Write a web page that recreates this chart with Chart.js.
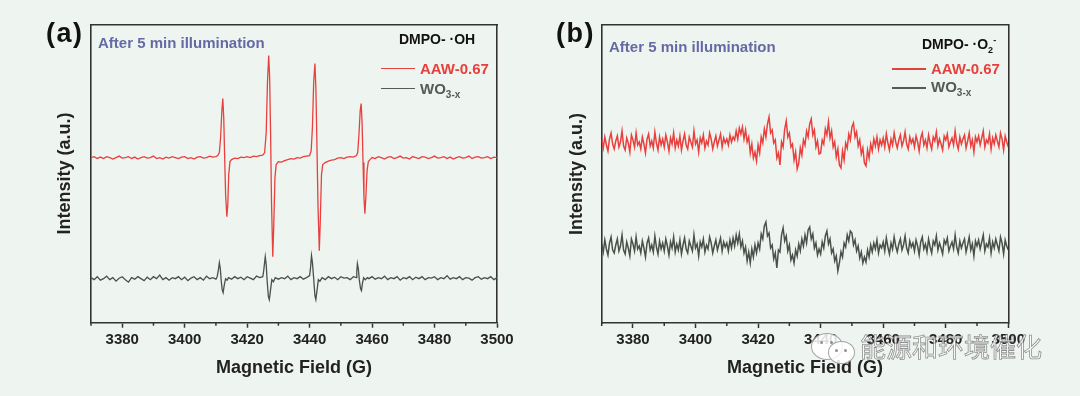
<!DOCTYPE html>
<html><head><meta charset="utf-8">
<script src="https://cdn.jsdelivr.net/npm/chart.js@4.4.1/dist/chart.umd.min.js"></script>
<style>
html,body{margin:0;padding:0;background:#eef4ef;}
#wrap{position:relative;width:1080px;height:396px;overflow:hidden;background:#eef4ef;font-family:"Liberation Sans",Arial,sans-serif;}
canvas{position:absolute;top:0;}
.t{position:absolute;white-space:nowrap;font-weight:bold;line-height:1;}
.pl{font-size:27px;letter-spacing:1.5px;color:#111;top:20px;}
.ill{font-size:15px;color:#666aa4;}
.dm{font-size:14px;color:#111;}
.lr{font-size:15px;color:#e6403d;}
.lg{font-size:15px;color:#555a55;}
.ln{position:absolute;width:34px;height:1.5px;}
sub{font-size:10px;vertical-align:-4px;line-height:0;}
sup{font-size:9px;vertical-align:6px;line-height:0;}
.wm{position:absolute;left:860px;top:330px;font-family:"Noto Sans CJK SC",sans-serif;font-size:26px;line-height:1.2;color:rgba(255,255,255,0.78);-webkit-text-stroke:0.8px rgba(110,110,110,0.75);white-space:nowrap;}
.bub{position:absolute;border-radius:50%;background:rgba(255,255,255,0.85);border:1px solid rgba(140,140,140,0.8);}
.eye{position:absolute;width:3px;height:3px;border-radius:50%;background:rgba(120,120,120,0.8);}
</style></head>
<body><div id="wrap">
<canvas id="ca" width="540" height="396" style="left:0px"></canvas>
<canvas id="cb" width="540" height="396" style="left:540px"></canvas>

<div class="t pl" style="left:46px">(a)</div>
<div class="t pl" style="left:556px">(b)</div>
<div class="t ill" style="left:98px;top:35px">After 5 min illumination</div>
<div class="t ill" style="left:609px;top:39px">After 5 min illumination</div>
<div class="t dm" style="left:399px;top:31.5px">DMPO- ·OH</div>
<div class="t dm" style="left:922px;top:36.5px">DMPO- ·O<sub style="font-size:9px">2</sub><sup>-</sup></div>

<div class="ln" style="left:381px;top:67.5px;background:#e6403d"></div>
<div class="t lr" style="left:420px;top:61.3px">AAW-0.67</div>
<div class="ln" style="left:381px;top:87.5px;background:#555a55"></div>
<div class="t lg" style="left:420px;top:80.6px">WO<sub>3-x</sub></div>

<div class="ln" style="left:892px;top:68.3px;background:#e6403d"></div>
<div class="t lr" style="left:931px;top:60.6px">AAW-0.67</div>
<div class="ln" style="left:892px;top:87px;background:#555a55"></div>
<div class="t lg" style="left:931px;top:79px">WO<sub>3-x</sub></div>

<div class="bub" style="left:811px;top:333px;width:30px;height:25px"></div>
<div class="eye" style="left:820px;top:341px"></div>
<div class="eye" style="left:830px;top:341px"></div>
<div class="bub" style="left:828px;top:341px;width:25px;height:21px"></div>
<div class="eye" style="left:835px;top:349px"></div>
<div class="eye" style="left:844px;top:349px"></div>
<div class="wm">能源和环境催化</div>
</div>
<script>
// ---------- axis values ----------
const fieldMin = 3370, fieldMax = 3500;
const xTickLabels = [3380, 3400, 3420, 3440, 3460, 3480, 3500];
const xMinorTicks = [3370, 3390, 3410, 3430, 3450, 3470, 3490];
const intensityMin = 0, intensityMax = 298;

// ---------- panel (a): DMPO-·OH, [field (G), intensity (a.u.)] ----------
const aRed = [
[3370,165],[3371,166],[3372,164],[3373,165.5],[3374,164],[3375,166],[3376,165],[3377,163.5],[3378,165],[3379,166.5],
[3380,164.5],[3381,165],[3382,166],[3383,164],[3384,165.5],[3385,163.5],[3386,165],[3387,166],[3388,164.5],[3389,165],
[3390,166.5],[3391,164],[3392,165],[3393,163.5],[3394,165.5],[3395,164.5],[3396,166],[3397,165],[3398,164],[3399,165.5],
[3400,166],[3401,164],[3402,165],[3403,163.5],[3404,165.5],[3405,166],[3406,164.5],[3407,165],[3408,166.5],[3409,165.5],
[3410,166],[3410.6,167],[3411.1,170],[3411.5,185],[3411.9,212],[3412.2,224],[3412.5,205],[3412.8,165],[3413.1,128],[3413.5,106],
[3413.8,118],[3414.1,148],[3414.5,161],[3415,163],[3416,164.5],[3417,164],[3418,165.5],[3419,165],[3420,166],[3421,165],
[3422,166.5],[3423,166],[3424,167],[3425,167.5],
[3425.6,170],[3426.1,190],[3426.5,240],[3426.9,267],[3427.2,245],[3427.5,190],[3427.8,120],[3428.2,66],[3428.5,95],[3428.9,145],
[3429.3,158],[3430,161],[3431,160.5],[3432,162],[3433,163],[3434,164],[3435,163.5],[3436,165],[3437,164.5],[3438,166],[3439,166.5],[3440,167],
[3440.5,172],[3440.9,195],[3441.3,240],[3441.7,259],[3442.0,235],[3442.3,185],[3442.7,115],[3443.1,72],[3443.4,100],[3443.8,148],
[3444.2,158],[3445,160],[3446,161.5],[3447,162.5],[3448,163],[3449,164.5],[3450,165],[3451,164],[3452,165.5],[3453,166],[3454,165.5],[3455,167],
[3455.4,170],[3455.8,188],[3456.2,212],[3456.5,219],[3456.8,200],[3457.1,160],[3457.4,125],[3457.7,109],[3458.0,125],[3458.4,152],
[3458.8,161],[3459.5,163.5],[3460,165],
[3461,164],[3462,166],[3463,165],[3464,163.5],[3465,165.5],[3466,166],[3467,164],[3468,165],[3469,166.5],[3470,164.5],
[3471,165],[3472,163.5],[3473,166],[3474,165],[3475,164],[3476,166],[3477,165.5],[3478,164],[3479,165],[3480,166.5],
[3481,164.5],[3482,165],[3483,166],[3484,164],[3485,165.5],[3486,163.5],[3487,165],[3488,166],[3489,164.5],[3490,165],
[3491,166.5],[3492,164],[3493,165.5],[3494,166],[3495,164.5],[3496,165],[3497,166],[3498,164],[3499,165.5],[3500,165]
];
const aGray = [
[3370,45],[3371,43],[3372,46],[3373,42.5],[3374,44],[3375,46.5],[3376,43],[3377,45],[3378,41.5],[3379,44.5],
[3380,46],[3381,43],[3382,40.5],[3383,45],[3384,43.5],[3385,46],[3386,44],[3387,42],[3388,45.5],[3389,43],
[3390,46],[3391,44],[3392,47.5],[3393,43],[3394,45],[3395,42.5],[3396,45],[3397,44],[3398,46],[3399,43],
[3400,45.5],[3401,42],[3402,44.5],[3403,46],[3404,43],[3405,45],[3406,42.5],[3407,46.5],[3408,44],[3409,45],[3410,43.5],
[3410.4,46],[3410.8,53],[3411.1,60],[3411.4,54],[3411.7,42],[3412.0,33],[3412.3,30],[3412.7,38],[3413.1,44],[3413.6,42.5],
[3414,45],[3415,43.5],[3416,46],[3417,44],[3418,45.5],[3419,43],[3420,46],[3421,44.5],[3422,43],[3423,46.5],[3424,45],[3425,46],
[3425.3,52],[3425.8,66],[3426.1,58],[3426.4,42],[3426.8,26],[3427.1,23],[3427.5,33],[3427.9,43],[3428.4,41],[3429,45],
[3430,43.5],[3431,45],[3432,44],[3433,46.5],[3434,43],[3435,45],[3436,44],[3437,46],[3438,43.5],[3439,45],[3440,47],
[3440.3,55],[3440.6,67],[3440.9,60],[3441.3,44],[3441.7,27],[3442.0,23],[3442.4,33],[3442.8,43],[3443.3,41.5],[3444,45],
[3445,43],[3446,46],[3447,44],[3448,45.5],[3449,43],[3450,46],[3451,44.5],[3452,45],[3453,43],[3454,46],[3455,45],
[3455.1,51],[3455.3,59],[3455.6,54],[3455.9,43],[3456.3,34],[3456.6,32],[3456.9,39],[3457.3,45],[3457.8,43],[3458.5,45],
[3459,44],[3460,46],[3461,43.5],[3462,45],[3463,44],[3464,46.5],[3465,43],[3466,45],[3467,44],[3468,46],[3469,42.5],
[3470,45],[3471,44],[3472,46],[3473,43],[3474,45.5],[3475,44],[3476,46],[3477,43],[3478,45],[3479,44.5],[3480,46],
[3481,43],[3482,45],[3483,44],[3484,47],[3485,43.5],[3486,45],[3487,44],[3488,46],[3489,43],[3490,45],[3491,44.5],
[3492,42.5],[3493,45],[3494,46],[3495,43.5],[3496,45],[3497,44],[3498,46],[3499,43],[3500,45]
];

// ---------- panel (b): DMPO-·O2-, sweep 3370 G .. 3500 G in 0.5 G steps ----------
const bFieldStart = 3370, bFieldStep = 0.5;
const bRed = [
183,175,186,178,172,184,190,179,174,182,
187,176,181,192,177,173,185,180,171,188,
183,176,190,178,181,174,186,179,170,184,
189,177,182,175,191,180,173,186,178,184,
176,188,181,172,185,179,190,175,183,177,
187,173,182,189,178,174,186,181,176,192,
179,183,171,185,180,188,175,182,178,190,
184,174,181,187,177,183,189,176,185,180,
184,178,188,181,186,183,192,184,195,189,
196,184,193,181,186,170,179,165,171,162,
178,170,186,180,194,186,199,206,190,193,
180,183,165,170,158,181,176,194,202,186,
190,176,179,163,171,154,160,175,168,183,
178,192,186,199,204,188,193,176,182,169,
170,183,179,194,188,201,185,192,176,181,
166,174,158,155,172,163,180,175,189,183,
196,200,186,191,177,183,169,175,160,157,
173,165,179,172,184,177,186,174,183,178,
185,176,189,180,173,184,178,190,181,175,
183,188,177,182,191,179,174,186,180,184,
176,187,181,172,185,190,178,183,175,188,
180,174,186,182,191,177,184,179,173,187,
183,189,176,181,185,178,192,180,174,186,
179,184,188,175,182,190,177,183,171,186,
181,187,178,185,192,176,183,180,189,174,
185,179,188,182,176,190,184,173,187,181,
176
];
const bGray = [
79,71,83,74,68,80,86,73,70,78,
84,72,77,88,73,69,81,75,67,84,
79,72,86,74,77,70,82,75,66,80,
85,73,78,71,87,76,69,82,74,80,
72,84,77,68,81,75,86,71,79,73,
83,69,78,85,74,70,82,77,72,88,
75,79,67,81,76,84,71,78,74,86,
80,70,77,83,73,79,85,72,81,76,
80,72,83,75,85,77,88,80,89,76,
82,70,76,62,71,60,74,66,78,70,
80,74,89,84,97,101,87,90,75,78,
64,70,55,73,71,88,95,82,87,72,
78,63,68,60,73,67,79,72,84,77,
88,80,93,96,84,89,75,80,68,74,
69,81,75,87,92,79,84,70,74,62,
67,52,60,71,66,80,76,88,82,92,
90,78,83,72,77,65,71,60,66,61,
73,66,78,71,80,74,83,70,78,75,
81,72,85,76,69,80,74,86,77,71,
79,84,73,78,87,75,70,82,76,80,
72,83,77,68,81,86,74,79,71,84,
76,70,82,78,87,73,80,75,69,83,
79,85,72,77,81,74,88,76,70,82,
75,80,84,71,78,86,73,79,67,82,
77,83,74,81,88,72,79,76,85,70,
81,75,84,78,72,86,80,69,83,77,
73
];

const RED = '#e8403e', GRAY = '#4b504b', AXIS = '#333333', FONT = "'Liberation Sans', Arial, sans-serif";

const toXY = (vals) => vals.map((v, i) => ({ x: bFieldStart + i * bFieldStep, y: v }));

const minorTicks = {
  id: 'minorTicks',
  afterDraw(chart) {
    const s = chart.scales.x, ctx = chart.ctx, b = chart.chartArea.bottom;
    ctx.save(); ctx.strokeStyle = AXIS; ctx.lineWidth = 1.5;
    xMinorTicks.forEach(v => {
      const p = s.getPixelForValue(v);
      ctx.beginPath(); ctx.moveTo(p, b); ctx.lineTo(p, b + 3); ctx.stroke();
    });
    ctx.restore();
  }
};

function makeChart(id, datasets, o) {
  const frame = { drawOnChartArea: false, drawTicks: false };
  const border = { display: true, color: AXIS, width: 1.6 };
  return new Chart(document.getElementById(id), {
    type: 'line',
    data: { datasets: datasets.map(d => ({
      data: d.data, borderColor: d.color, borderWidth: o.lw, pointRadius: 0,
      tension: 0, fill: false, xAxisID: 'x', yAxisID: 'y' })) },
    options: {
      responsive: false, animation: false, devicePixelRatio: 1,
      layout: { padding: { left: 0, top: o.top, right: o.right, bottom: 0 } },
      plugins: { legend: { display: false }, tooltip: { enabled: false } },
      scales: {
        x: {
          type: 'linear', position: 'bottom', min: fieldMin, max: fieldMax,
          afterBuildTicks: s => { s.ticks = xTickLabels.map(v => ({ value: v })); },
          afterFit: s => { s.height = 396 - o.bottom; },
          ticks: { font: { family: FONT, size: 15, weight: 'bold' }, color: '#222', padding: 3,
                   maxRotation: 0, autoSkip: false, callback: v => String(v) },
          grid: { drawOnChartArea: false, drawTicks: true, tickLength: 5, tickWidth: 1.5, tickColor: AXIS },
          border: border,
          title: { display: true, text: 'Magnetic Field (G)', color: '#222',
                   font: { family: FONT, size: 18, weight: 'bold' }, padding: { top: 0, bottom: 17 } }
        },
        x2: {
          type: 'linear', position: 'top', min: fieldMin, max: fieldMax,
          ticks: { display: false }, grid: frame, border: border,
          afterFit: s => { s.height = 0; }
        },
        y: {
          type: 'linear', position: 'left', min: intensityMin, max: intensityMax,
          ticks: { display: false }, grid: frame, border: border,
          title: { display: true, text: 'Intensity (a.u.)', color: '#222',
                   font: { family: FONT, size: 18, weight: 'bold' }, padding: { top: o.yTitlePad, bottom: 0 } },
          afterFit: s => { s.width = o.left; }
        },
        y2: {
          type: 'linear', position: 'right', min: intensityMin, max: intensityMax,
          ticks: { display: false }, grid: frame, border: border,
          afterFit: s => { s.width = 0; }
        }
      }
    },
    plugins: [minorTicks]
  });
}

makeChart('ca', [{ data: aGray, color: GRAY }, { data: aRed, color: RED }],
  { left: 91, right: 43, top: 24.5, bottom: 322.7, yTitlePad: 54, lw: 1.3 });
makeChart('cb', [{ data: toXY(bGray), color: GRAY }, { data: toXY(bRed), color: RED }],
  { left: 61.7, right: 71.7, top: 25, bottom: 323, yTitlePad: 26, lw: 1.5 });
</script>
</body></html>
